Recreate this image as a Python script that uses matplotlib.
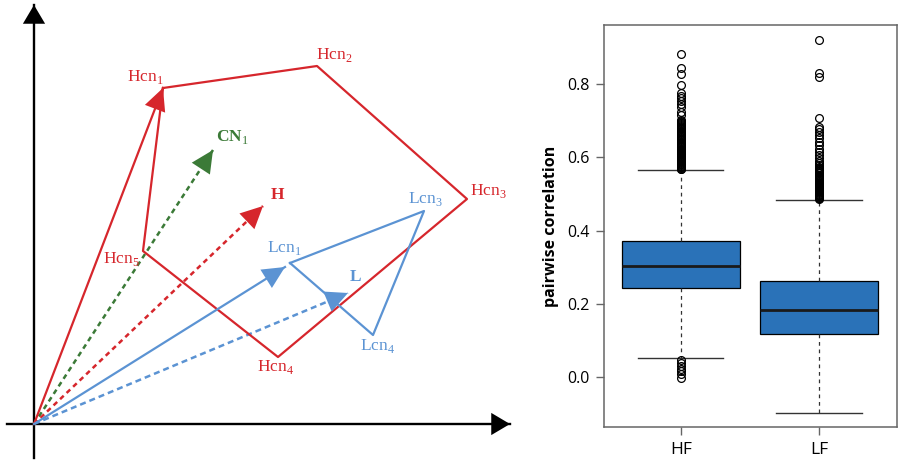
import numpy as np
import matplotlib.pyplot as plt

plt.rcParams['mathtext.fontset'] = 'custom'
plt.rcParams['mathtext.rm'] = 'Liberation Serif'
plt.rcParams['mathtext.bf'] = 'Liberation Serif:bold'

# --- left diagram: vector coordinates (origin at 0,0) ---
hcn_x = [129, 283, 433, 244, 109]
hcn_y = [336, 358, 225, 67, 173]
hcn_labels = ['1', '2', '3', '4', '5']
lcn_x = [256, 390, 339]
lcn_y = [161, 213, 89]
lcn_labels = ['1', '3', '4']
cn1_tip = (179, 274)
h_tip = (229, 218)
l_tip = (314, 131)
lcn1_tip = (251, 157)

# --- right panel: boxplot summary values ---
groups = ['HF', 'LF']
q1 = [0.244, 0.117]
med = [0.304, 0.184]
q3 = [0.373, 0.264]
whis_lo = [0.053, -0.098]
whis_hi = [0.566, 0.485]
hf_fliers = [0.881, 0.845, 0.827, 0.797, 0.775, 0.768, 0.761, 0.754, 0.745, 0.737,
             0.724, 0.715,
             0.703, 0.700, 0.697, 0.694, 0.691, 0.688, 0.685, 0.682, 0.679, 0.676,
             0.673, 0.670, 0.667, 0.664, 0.661, 0.658, 0.655, 0.652, 0.649, 0.646,
             0.643, 0.640, 0.637, 0.634, 0.632, 0.629, 0.627, 0.624, 0.622, 0.619,
             0.617, 0.615, 0.612, 0.610, 0.608, 0.605, 0.603, 0.601, 0.599, 0.596,
             0.594, 0.592, 0.590, 0.588, 0.585, 0.583, 0.581, 0.579, 0.577, 0.575,
             0.573, 0.571, 0.569, 0.567,
             0.046, 0.038, 0.031, 0.024, 0.017, 0.009, -0.003]
lf_fliers = [0.920, 0.831, 0.818, 0.706, 0.683, 0.677, 0.670, 0.661, 0.652, 0.643,
             0.634, 0.624, 0.615, 0.606, 0.597, 0.590,
             0.584, 0.579, 0.575, 0.571, 0.568, 0.565, 0.562, 0.559, 0.556, 0.553,
             0.550, 0.547, 0.544, 0.541, 0.539, 0.536, 0.534, 0.531, 0.529, 0.526,
             0.524, 0.521, 0.519, 0.517, 0.514, 0.512, 0.510, 0.507, 0.505, 0.503,
             0.500, 0.498, 0.496, 0.494, 0.492, 0.490, 0.488, 0.486]

RED = '#d6262c'
GREEN = '#3b7a37'
BLUE = '#5b93d3'
SERIF = 'Liberation Serif'

fig = plt.figure(figsize=(8.98, 4.61), dpi=100)

# ---------------- left: vector diagram ----------------
ax = fig.add_axes([0, 0, 520 / 898, 1])
ax.set_xlim(-34, 486)
ax.set_ylim(-37, 424)
ax.axis('off')


def arrow(x0, y0, x1, y1, color, ls='-', lw=1.5, hl=1.6, hw=0.78):
    ax.plot([x0, x1], [y0, y1], color=color, lw=lw, ls=ls)
    ax.annotate('', xy=(x1, y1), xytext=(x0, y0),
                arrowprops=dict(arrowstyle=f'-|>,head_length={hl},head_width={hw}',
                                color=color, lw=0, mutation_scale=10,
                                shrinkA=0, shrinkB=0))


# axes
arrow(0, -34, 0, 419, 'black', lw=1.7, hl=1.35, hw=0.8)
arrow(-27, 0, 476, 0, 'black', lw=1.7, hl=1.35, hw=0.8)

dash = (0, (2.0, 1.6))
# dashed mean vectors
arrow(0, 0, cn1_tip[0], cn1_tip[1], GREEN, ls=dash, lw=1.8)
arrow(0, 0, h_tip[0], h_tip[1], RED, ls=dash, lw=1.8)
arrow(0, 0, l_tip[0], l_tip[1], BLUE, ls=(0, (2.4, 1.6)), lw=1.8)

# H polygon
ax.plot(hcn_x + [hcn_x[0]], hcn_y + [hcn_y[0]], color=RED, lw=1.6)
arrow(0, 0, hcn_x[0], hcn_y[0], RED, lw=1.6)

# L triangle
ax.plot(lcn_x + [lcn_x[0]], lcn_y + [lcn_y[0]], color=BLUE, lw=1.6)
arrow(0, 0, lcn1_tip[0], lcn1_tip[1], BLUE, lw=1.6)

hcn_off = [(-18, 11), (17, 11), (21, 8), (-2, -10), (-22, -8)]
for x, y, s, (dx, dy) in zip(hcn_x, hcn_y, hcn_labels, hcn_off):
    ax.text(x + dx, y + dy, 'Hcn$_\\mathrm{' + s + '}$', color=RED, family=SERIF,
            fontsize=12.5, ha='center', va='center')
lcn_off = [(-6, 15), (1, 12), (5, -11)]
for x, y, s, (dx, dy) in zip(lcn_x, lcn_y, lcn_labels, lcn_off):
    ax.text(x + dx, y + dy, 'Lcn$_\\mathrm{' + s + '}$', color=BLUE, family=SERIF,
            fontsize=12.5, ha='center', va='center')

ax.text(cn1_tip[0] + 19, cn1_tip[1] + 13, 'CN$_\\mathrm{1}$', color=GREEN, family=SERIF,
        fontsize=12.5, fontweight='bold', ha='center', va='center')
ax.text(h_tip[0] + 14, h_tip[1] + 11, 'H', color=RED, family=SERIF,
        fontsize=12.5, fontweight='bold', ha='center', va='center')
ax.text(l_tip[0] + 7, l_tip[1] + 16, 'L', color=BLUE, family=SERIF,
        fontsize=12.5, fontweight='bold', ha='center', va='center')

# ---------------- right: boxplot ----------------
ax2 = fig.add_axes([604 / 898, 34 / 461, 293 / 898, 402 / 461])
stats = []
fliers = [hf_fliers, lf_fliers]
for i, g in enumerate(groups):
    stats.append(dict(label=g, q1=q1[i], med=med[i], q3=q3[i],
                      whislo=whis_lo[i], whishi=whis_hi[i], fliers=fliers[i]))

ax2.bxp(stats, positions=[1, 2], widths=0.853, capwidths=0.615, patch_artist=True,
        boxprops=dict(facecolor='#2a72b8', edgecolor='black', lw=0.9),
        medianprops=dict(color='#1a1a1a', lw=2),
        whiskerprops=dict(ls=(0, (3, 3)), color='#333333', lw=0.9),
        capprops=dict(color='#333333', lw=1),
        flierprops=dict(marker='o', mfc='none', mec='black', ms=5.6, mew=0.9))

ax2.set_xlim(0.445, 2.564)
ax2.set_ylim(-0.1355, 0.961)
ax2.set_yticks([0.0, 0.2, 0.4, 0.6, 0.8])
ax2.set_yticklabels(['0.0', '0.2', '0.4', '0.6', '0.8'])
ax2.set_xticks([1, 2])
ax2.set_xticklabels(groups)
for sp in ax2.spines.values():
    sp.set_color('#666666')
    sp.set_linewidth(1.1)
ax2.tick_params(colors='#666666', length=6, width=1, labelsize=11.5, pad=4)
for t in ax2.get_xticklabels() + ax2.get_yticklabels():
    t.set_color('black')
    t.set_family('Open Sans')
ax2.tick_params(axis='x', labelsize=12.5, pad=5)
ax2.set_ylabel('pairwise correlation', fontsize=11.5, fontweight='bold',
               family='Open Sans', labelpad=6)

fig.savefig('out.png', dpi=100)
